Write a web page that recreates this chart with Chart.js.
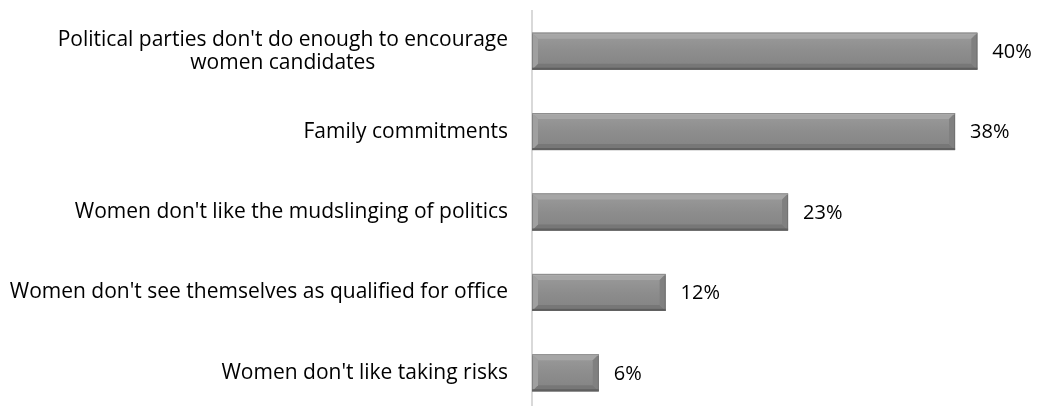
<!DOCTYPE html>
<html>
<head>
<meta charset="utf-8">
<script src="https://cdn.jsdelivr.net/npm/chart.js@4"></script>
<style>
  html, body { margin: 0; padding: 0; background: #fff; overflow: hidden; }
  #wrap { width: 1037px; height: 416px; position: relative; }
</style>
</head>
<body>
<div id="wrap"><canvas id="chart"></canvas></div>
<script>
const categories = [
  ["Political parties don't do enough to encourage", "women candidates"],
  "Family commitments",
  "Women don't like the mudslinging of politics",
  "Women don't see themselves as qualified for office",
  "Women don't like taking risks"
]
const percents = [40, 38, 23, 12, 6]

const FONT = '"Open Sans", Lato, sans-serif'
const LABEL_SIZE = 21

// bars get a beveled, embossed look drawn over the flat fill
const bevelBars = {
  id: 'bevelBars',
  afterDatasetsDraw(chart) {
    const ctx = chart.ctx
    chart.getDatasetMeta(0).data.forEach((bar) => {
      const left = bar.base, right = bar.x
      const top = bar.y - bar.height / 2, bottom = bar.y + bar.height / 2
      const b = 6
      ctx.save()
      const g = ctx.createLinearGradient(0, top, 0, bottom)
      g.addColorStop(0, '#9b9b9b')
      g.addColorStop(0.5, '#8d8d8d')
      g.addColorStop(1, '#838383')
      ctx.fillStyle = g
      ctx.fillRect(left, top, right - left, bottom - top)

      const quad = (pts, color) => {
        ctx.beginPath()
        ctx.moveTo(pts[0][0], pts[0][1])
        pts.slice(1).forEach(p => ctx.lineTo(p[0], p[1]))
        ctx.closePath()
        ctx.fillStyle = color
        ctx.fill()
      }
      // top, bottom, left, right bevel faces
      quad([[left, top], [right, top], [right - b, top + b], [left + b, top + b]], '#a6a6a6')
      quad([[left, bottom], [right, bottom], [right - b, bottom - b], [left + b, bottom - b]], '#777777')
      quad([[left, top], [left + b, top + b], [left + b, bottom - b], [left, bottom]], '#a0a0a0')
      quad([[right, top], [right - b, top + b], [right - b, bottom - b], [right, bottom]], '#808080')

      ctx.fillStyle = '#b5b5b5'
      ctx.fillRect(left, top, right - left, 1.5)
      ctx.fillStyle = '#5e5e5e'
      ctx.fillRect(left, bottom - 2, right - left, 2)
      ctx.strokeStyle = 'rgba(100,100,100,0.5)'
      ctx.lineWidth = 1
      ctx.strokeRect(left + 0.5, top + 0.5, right - left - 1, bottom - top - 1)

      ctx.restore()
    })
  }
}

// percent labels after each bar
const valueLabels = {
  id: 'valueLabels',
  afterDatasetsDraw(chart) {
    const ctx = chart.ctx
    ctx.save()
    ctx.font = `20px ${FONT}`
    ctx.fillStyle = '#000'
    ctx.textAlign = 'left'
    ctx.textBaseline = 'middle'
    chart.getDatasetMeta(0).data.forEach((bar, i) => {
      ctx.fillText(percents[i] + '%', bar.x + 15, bar.y + 1)
    })
    ctx.restore()
  }
}

// category labels: block right-aligned, lines centred within the block
const categoryLabels = {
  id: 'categoryLabels',
  afterDraw(chart) {
    const ctx = chart.ctx
    const y = chart.scales.y
    ctx.save()
    ctx.font = `${LABEL_SIZE}px ${FONT}`
    ctx.fillStyle = '#000'
    ctx.textAlign = 'center'
    ctx.textBaseline = 'middle'
    const lineH = 23
    categories.forEach((cat, i) => {
      const lines = Array.isArray(cat) ? cat : [cat]
      const w = Math.max(...lines.map(l => ctx.measureText(l).width))
      const cx = y.right - 24 - w / 2
      const cy = y.getPixelForValue(i)
      lines.forEach((l, k) => {
        ctx.fillText(l, cx, cy + (k - (lines.length - 1) / 2) * lineH)
      })
    })
    ctx.restore()
  }
}

new Chart(document.getElementById('chart'), {
  type: 'bar',
  data: {
    labels: categories,
    datasets: [{
      data: percents,
      backgroundColor: '#8c8c8c',
      borderWidth: 0,
      barPercentage: 0.46,
      categoryPercentage: 1
    }]
  },
  options: {
    indexAxis: 'y',
    responsive: true,
    maintainAspectRatio: false,
    animation: false,
    layout: { padding: { top: 11, bottom: 3, left: 0, right: 4 } },
    plugins: {
      legend: { display: false },
      tooltip: { enabled: false }
    },
    scales: {
      x: {
        min: 0,
        max: 45,
        display: false
      },
      y: {
        afterFit: (scale) => { scale.width = 532 },
        grid: { display: false, drawTicks: false },
        border: { display: true, color: '#d9d9d9', width: 2 },
        ticks: { display: false }
      }
    }
  },
  plugins: [bevelBars, valueLabels, categoryLabels]
})
</script>
</body>
</html>
